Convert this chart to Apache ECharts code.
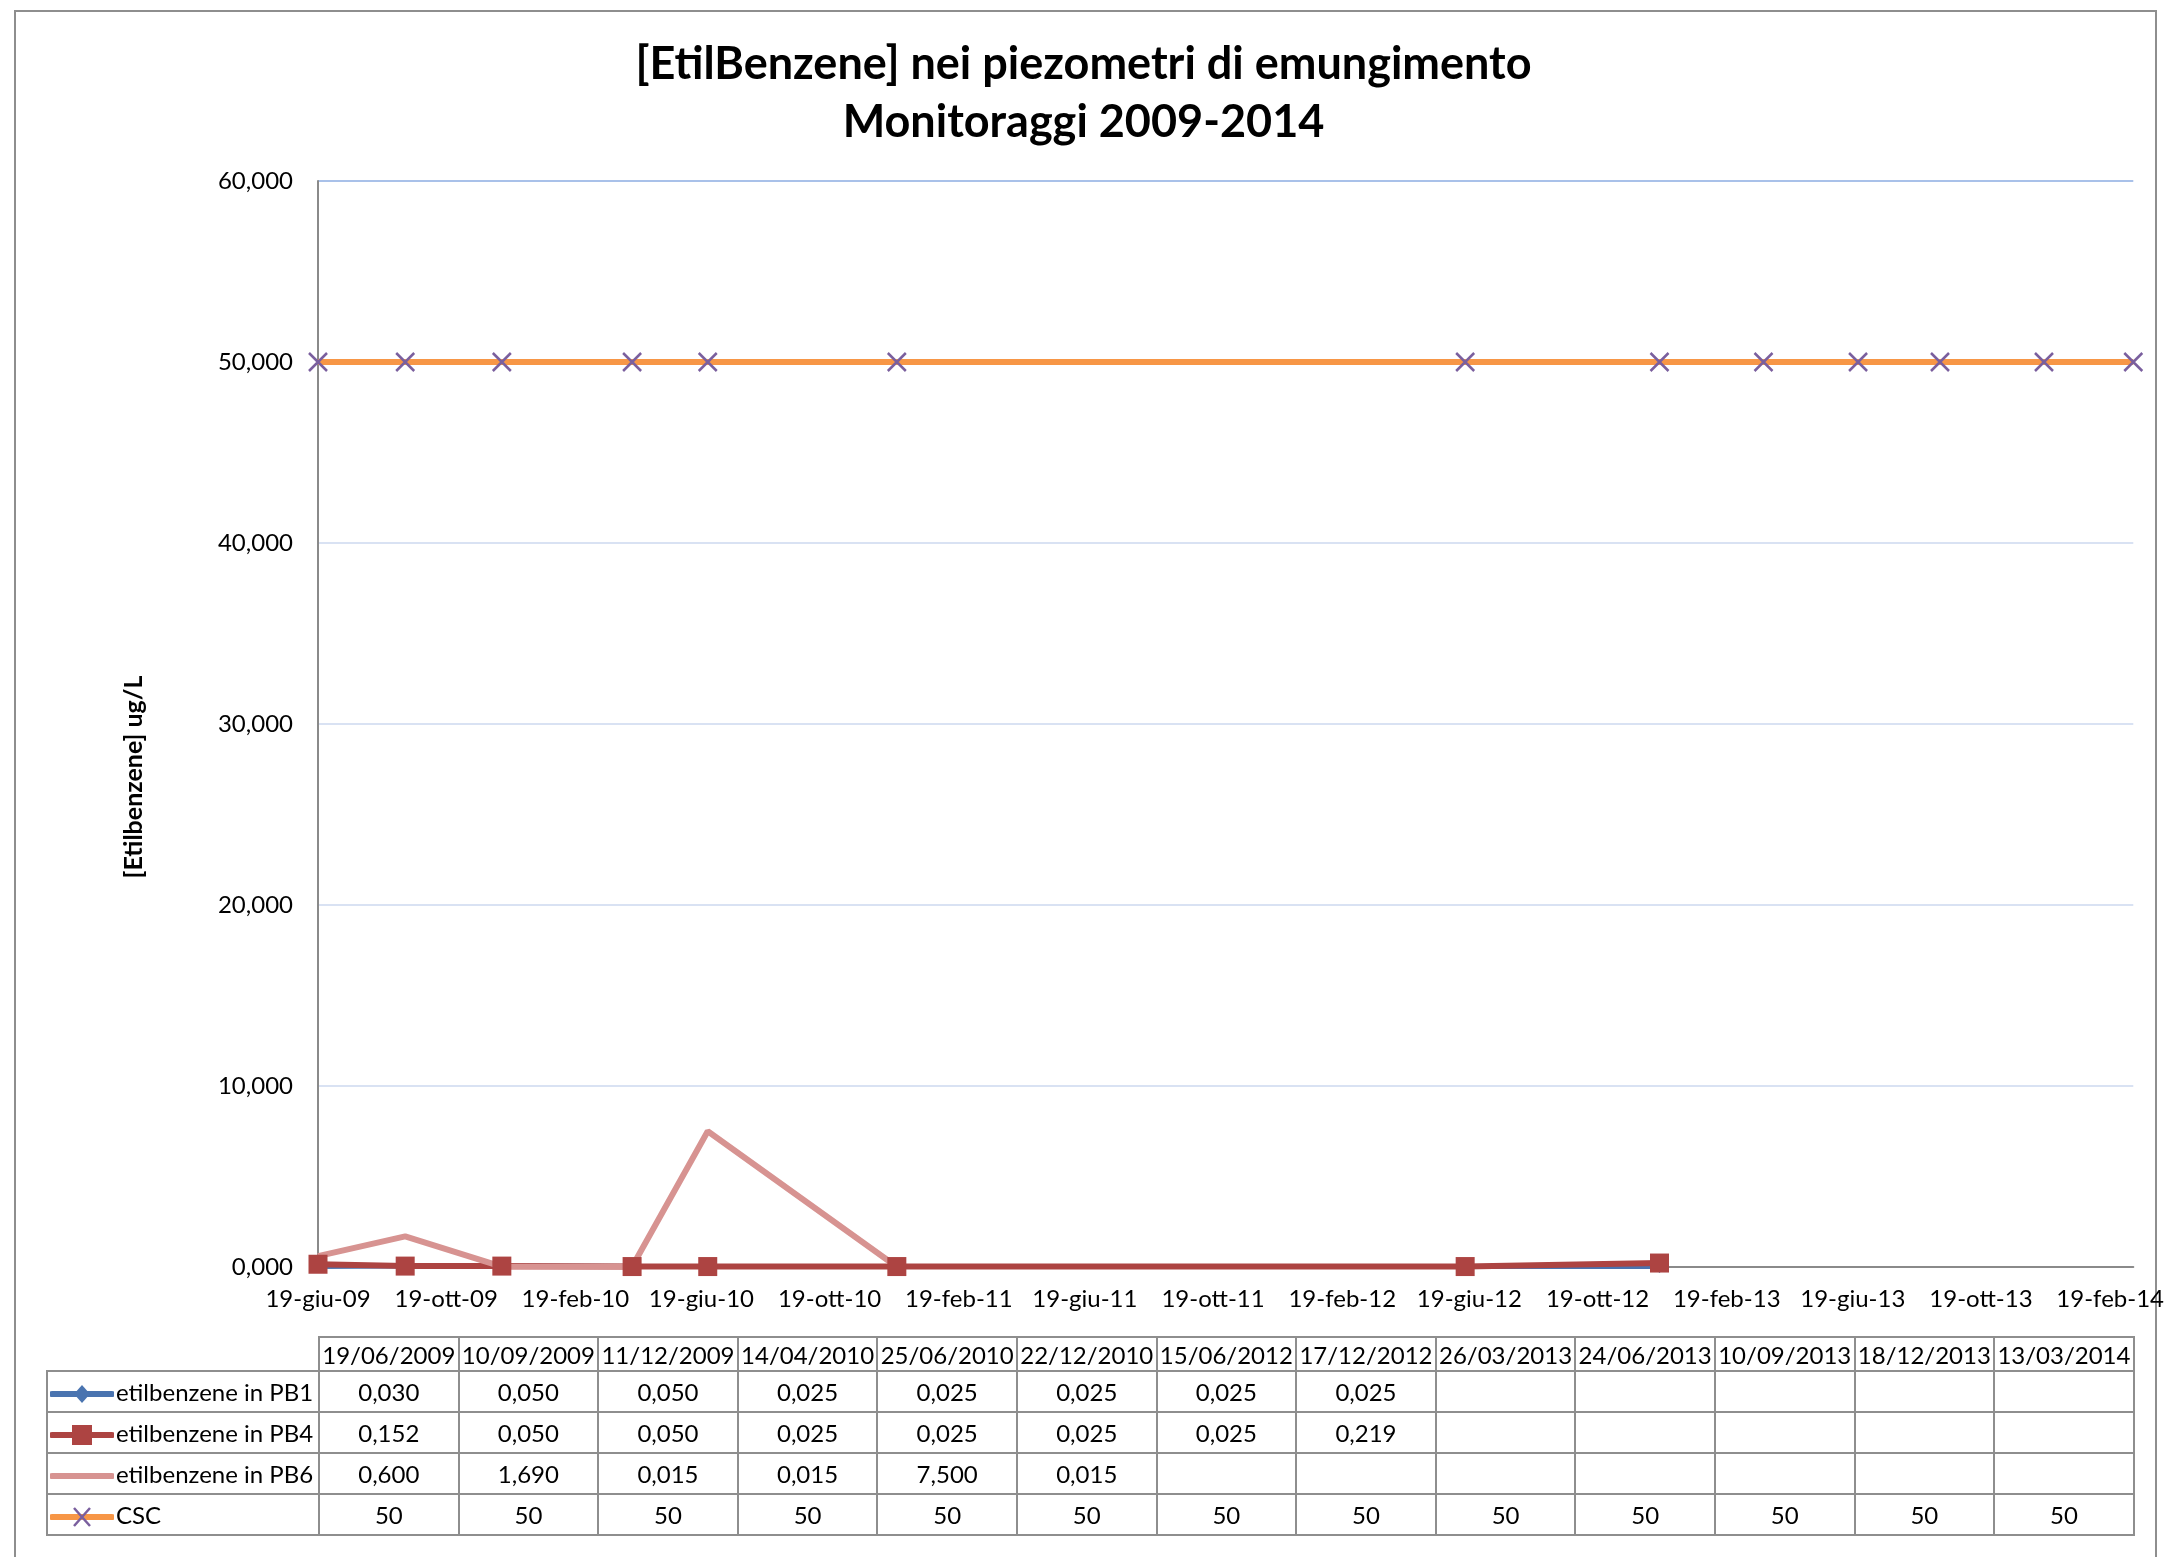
<!DOCTYPE html>
<html>
<head>
<meta charset="utf-8">
<title>EtilBenzene</title>
<script src="https://cdn.jsdelivr.net/npm/echarts@6/dist/echarts.min.js"></script>
<style>
  * { margin: 0; padding: 0; }
  body { background: #fff; }
  #wrap { position: relative; width: 2167px; height: 1557px; overflow: hidden; font-family: Lato, 'Open Sans', sans-serif; }
  #frame { position: absolute; left: 14px; top: 10px; width: 2143px; height: 1600px; border: 2px solid #8e8e8e; box-sizing: border-box; }
  #main { position: absolute; left: 0; top: 0; width: 2167px; height: 1557px; }
  #tab { position: absolute; left: 46px; top: 1336px; border-collapse: collapse; font-size: 24px; color: #000; table-layout: fixed; }
  #tab td { border: 2px solid #8e8e8e; text-align: center; white-space: nowrap; overflow: hidden; }
  #tab td.empty { border: none; }
  #tab tr.head td { height: 32px; }
  #tab tr.row td { height: 39px; }
  #tab td.lab { text-align: left; padding-left: 2px; }
  #tab td.lab svg { vertical-align: middle; margin-right: 2px; }
</style>
</head>
<body>
<div id="wrap">
  <div id="frame"></div>
  <div id="main"></div>
  <table id="tab"></table>
</div>
<script>
  // date di campionamento (colonne della tabella)
  var dates = ['19/06/2009','10/09/2009','11/12/2009','14/04/2010','25/06/2010','22/12/2010','15/06/2012','17/12/2012','26/03/2013','24/06/2013','10/09/2013','18/12/2013','13/03/2014']
  var pb1 = [0.030, 0.050, 0.050, 0.025, 0.025, 0.025, 0.025, 0.025]
  var pb4 = [0.152, 0.050, 0.050, 0.025, 0.025, 0.025, 0.025, 0.219]
  var pb6 = [0.600, 1.690, 0.015, 0.015, 7.500, 0.015]
  var csc = [50, 50, 50, 50, 50, 50, 50, 50, 50, 50, 50, 50, 50]
  var names = ['etilbenzene in PB1', 'etilbenzene in PB4', 'etilbenzene in PB6', 'CSC']
  var tickLabels = ['19-giu-09','19-ott-09','19-feb-10','19-giu-10','19-ott-10','19-feb-11','19-giu-11','19-ott-11','19-feb-12','19-giu-12','19-ott-12','19-feb-13','19-giu-13','19-ott-13','19-feb-14']
  var yTicks = [0, 10, 20, 30, 40, 50, 60]

  var mesi = ['gen','feb','mar','apr','mag','giu','lug','ago','set','ott','nov','dic']
  var colors = ['#4a74b0', '#ad4442', '#d79391', '#f79646']
  var cross = '#7a5f9e'

  function parseDate(s) {
    var p = s.split('/')
    return Date.UTC(+p[2], +p[1] - 1, +p[0])
  }
  function parseTick(s) {
    var p = s.split('-')
    return Date.UTC(2000 + (+p[2]), mesi.indexOf(p[1]), +p[0])
  }
  function fmt3(v) { return v.toFixed(3).replace('.', ',') }
  function pairs(vals) {
    return vals.map(function (v, i) { return [parseDate(dates[i]), v] })
  }

  var tickValues = tickLabels.map(parseTick)
  var crossPath = 'path://M0,0L10,10M10,0L0,10'

  var chart = echarts.init(document.getElementById('main'))
  chart.setOption({
    animation: false,
    title: {
      text: '[EtilBenzene] nei piezometri di emungimento\nMonitoraggi 2009-2014',
      left: 'center',
      top: 35,
      padding: 0,
      textStyle: { fontFamily: 'Lato', fontWeight: 'bold', fontSize: 45, lineHeight: 58, color: '#000' }
    },
    // titolo asse y, spostato come nell'originale
    graphic: [{
      type: 'text',
      x: 134, y: 777,
      rotation: Math.PI / 2,
      style: {
        text: '[Etilbenzene] ug/L',
        fontFamily: 'Lato', fontWeight: 'bold', fontSize: 25, fill: '#000',
        align: 'center', verticalAlign: 'middle'
      }
    }],
    grid: { left: 318, top: 181, width: 1816, height: 1086, containLabel: false },
    xAxis: {
      type: 'value',
      min: parseDate(dates[0]),
      max: parseDate(dates[dates.length - 1]),
      axisLine: { show: true, onZero: false, lineStyle: { color: '#8a8a8a', width: 2 } },
      axisTick: { show: false },
      splitLine: { show: false },
      axisLabel: {
        customValues: tickValues,
        margin: 20,
        fontFamily: 'Lato', fontSize: 24, color: '#000',
        hideOverlap: false,
        formatter: function (v) {
          var i = tickValues.indexOf(v)
          return i >= 0 ? tickLabels[i] : ''
        }
      }
    },
    yAxis: {
      type: 'value',
      min: yTicks[0],
      max: yTicks[yTicks.length - 1],
      interval: yTicks[1] - yTicks[0],
      axisLine: { show: true, lineStyle: { color: '#8a8a8a', width: 2 } },
      axisTick: { show: false },
      axisLabel: { margin: 25, fontFamily: 'Lato', fontSize: 24, color: '#000', formatter: fmt3 },
      splitLine: { lineStyle: { width: 2, color: ['#d9e2f3', '#d9e2f3', '#d9e2f3', '#d9e2f3', '#d9e2f3', '#d9e2f3', '#a9c1e9'] } }
    },
    series: [
      {
        name: names[0], type: 'line', data: pairs(pb1),
        symbol: 'diamond', symbolSize: 13, showAllSymbol: true,
        lineStyle: { color: colors[0], width: 5 },
        itemStyle: { color: colors[0] }
      },
      {
        name: names[1], type: 'line', data: pairs(pb4),
        symbol: 'rect', symbolSize: 19, showAllSymbol: true,
        lineStyle: { color: colors[1], width: 6 },
        itemStyle: { color: colors[1] }
      },
      {
        name: names[2], type: 'line', data: pairs(pb6),
        symbol: 'none',
        lineStyle: { color: colors[2], width: 6, join: 'bevel' }
      },
      {
        name: names[3], type: 'line', data: pairs(csc),
        symbol: crossPath, symbolSize: 18, showAllSymbol: true,
        lineStyle: { color: colors[3], width: 6 },
        itemStyle: { color: 'none', borderColor: cross, borderWidth: 2.5 }
      }
    ]
  })

  // tabella dati sotto al grafico
  function icon(i) {
    var s = '<svg width="64" height="24" viewBox="0 0 64 24">'
    s += '<line x1="2" y1="12" x2="62" y2="12" stroke="' + colors[i] + '" stroke-width="6" stroke-linecap="round"/>'
    if (i === 0) s += '<polygon points="32,3 40,12 32,21 24,12" fill="' + colors[0] + '"/>'
    if (i === 1) s += '<rect x="22" y="2" width="20" height="20" fill="' + colors[1] + '"/>'
    if (i === 3) s += '<path d="M24,3L40,21M40,3L24,21" stroke="' + cross + '" stroke-width="2.5"/>'
    return s + '</svg>'
  }
  var rows = [pb1, pb4, pb6, csc]
  var html = '<colgroup><col style="width:272px">'
  dates.forEach(function () { html += '<col style="width:139.6px">' })
  html += '</colgroup><tr class="head"><td class="empty"></td>'
  dates.forEach(function (d) { html += '<td>' + d + '</td>' })
  html += '</tr>'
  rows.forEach(function (vals, i) {
    html += '<tr class="row"><td class="lab">' + icon(i) + names[i] + '</td>'
    dates.forEach(function (d, j) {
      var v = vals[j]
      var t = ''
      if (v !== undefined && v !== null) t = (i === 3) ? String(v) : fmt3(v)
      html += '<td>' + t + '</td>'
    })
    html += '</tr>'
  })
  document.getElementById('tab').innerHTML = html
</script>
</body>
</html>
